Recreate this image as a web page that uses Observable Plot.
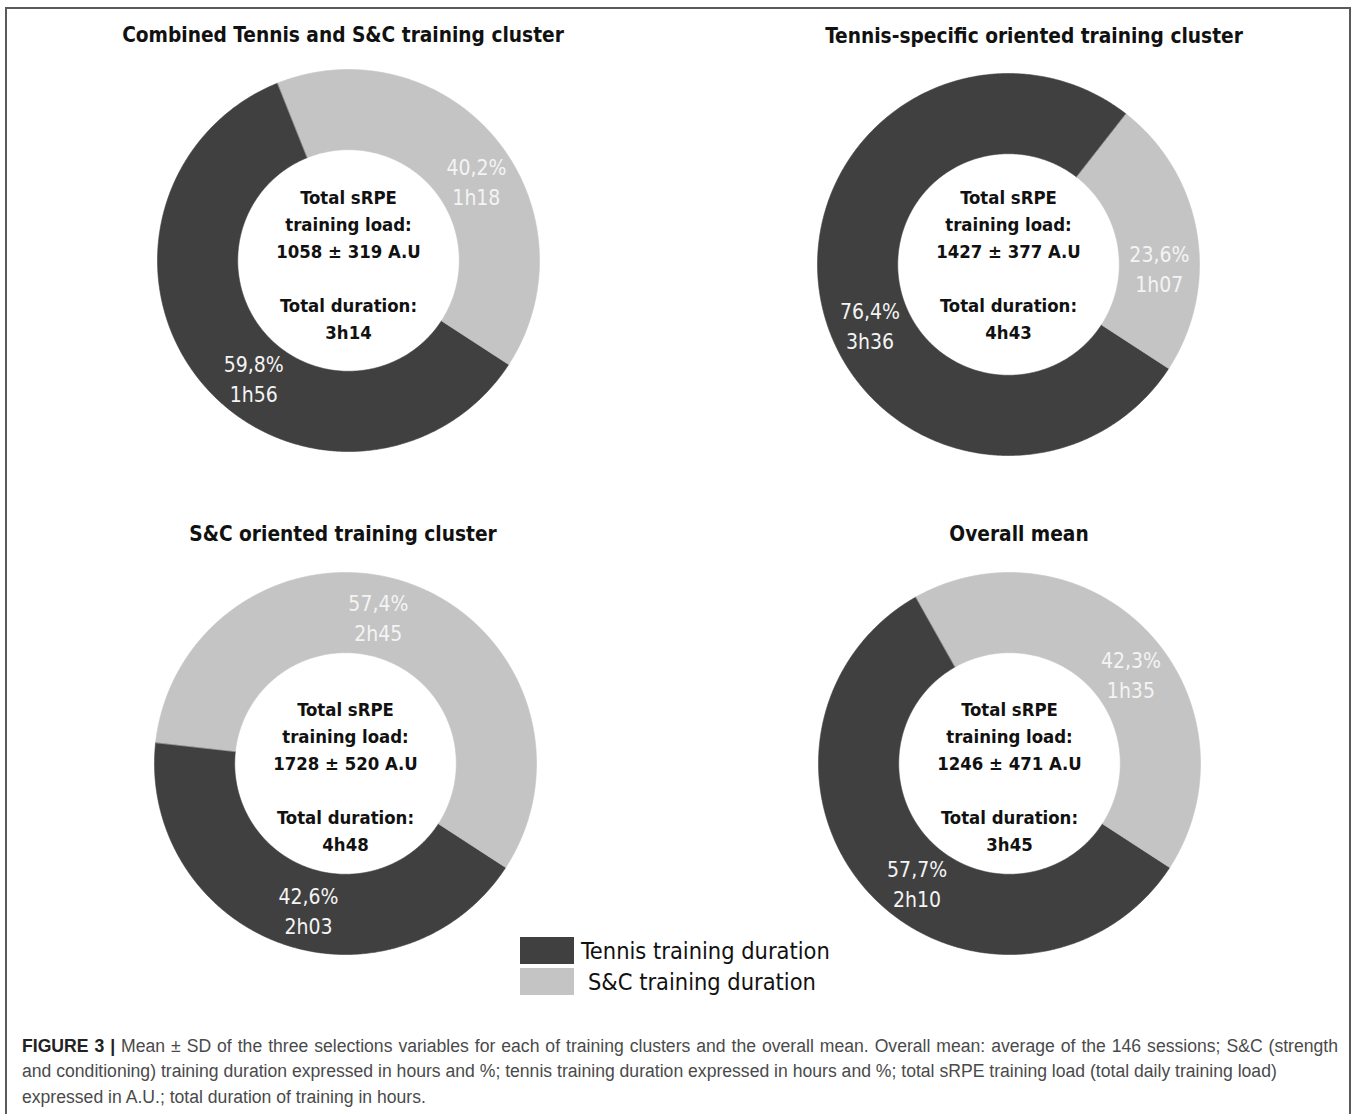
<!DOCTYPE html>
<html><head><meta charset="utf-8">
<script src="https://cdn.jsdelivr.net/npm/d3@7"></script>
<script src="https://cdn.jsdelivr.net/npm/@observablehq/plot@0.6"></script>
<style>
html,body{margin:0;padding:0;background:#fff;}
body{width:1360px;height:1114px;position:relative;overflow:hidden;font-family:"DejaVu Sans Condensed","DejaVu Sans",sans-serif;}
#frame{position:absolute;left:5px;top:7px;width:1346px;height:1130px;border:2px solid #5a5a5a;box-sizing:border-box;}
.title{position:absolute;font-weight:bold;font-size:20.7px;transform:translate(-50%,-50%);white-space:nowrap;color:#111;}
.panel{position:absolute;}
.legend{position:absolute;left:520px;top:937px;}
.lrow{position:absolute;left:0;height:27px;white-space:pre;}
.sw{position:absolute;left:0;top:0;width:54px;height:27px;}
.ltxt{position:absolute;left:61px;top:50%;transform:translateY(-50%);font-size:23.4px;color:#111;white-space:pre;}
.caption{position:absolute;left:22px;top:1033.5px;font-family:"Liberation Sans",Arial,sans-serif;font-size:17.6px;color:#4a4a4a;line-height:25.5px;}
.caption div{white-space:nowrap;}
.caption div.just{width:1316px;text-align:justify;text-align-last:justify;}
.caption b{color:#222;}
</style></head>
<body>
<div id="frame"></div>
<div id="root"></div>
<script>
// ---------- data ----------
const panelTitles = [
  "Combined Tennis and S&C training cluster",
  "Tennis-specific oriented training cluster",
  "S&C oriented training cluster",
  "Overall mean"
];
const categories = ["Tennis training duration", "S&C training duration"];
const tennisPct = [59.8, 76.4, 42.6, 57.7];
const scPct = [40.2, 23.6, 57.4, 42.3];
const tennisTime = ["1h56", "3h36", "2h03", "2h10"];
const scTime = ["1h18", "1h07", "2h45", "1h35"];
const loadMean = [1058, 1427, 1728, 1246];
const loadSD = [319, 377, 520, 471];
const totalDuration = ["3h14", "4h43", "4h48", "3h45"];
const captionLines = [
  "Mean \u00b1 SD of the three selections variables for each of training clusters and the overall mean. Overall mean: average of the 146 sessions; S&C (strength",
  "and conditioning) training duration expressed in hours and %; tennis training duration expressed in hours and %; total sRPE training load (total daily training load)",
  "expressed in A.U.; total duration of training in hours."
];

// ---------- style / layout ----------
const colors = ["#404040", "#c4c4c4"];
const labelColor = "#f4f4f4";
const R = 191;            // outer radius in px
const hole = 0.58;        // inner radius / outer radius
const startDeg = 123;     // angle of first slice (clockwise from 12 o'clock)
const S = 440;            // svg size
const layout = [
  {cx: 348, cy: 260, tx: 343, ty: 35, textDy: 2, nudge: [-11.7, 7.3]},
  {cx: 1008, cy: 264, tx: 1034, ty: 36, textDy: -2, nudge: [-13.9, 10.4]},
  {cx: 345, cy: 763, tx: 343, ty: 534, textDy: 11.5, nudge: [-5.5, -7.1]},
  {cx: 1009, cy: 763, tx: 1019, ty: 534, textDy: 11.5, nudge: [-9.1, 6.7]}
];
const fontFamily = '"DejaVu Sans Condensed","DejaVu Sans",sans-serif';
const fmtPct = v => v.toFixed(1).replace(".", ",") + "%";

const root = document.getElementById("root");
const half = S / 2 / R;
const a0 = startDeg * Math.PI / 180;

panelTitles.forEach((title, i) => {
  const L = layout[i];
  const t = document.createElement("div");
  t.className = "title";
  t.style.left = L.tx + "px";
  t.style.top = L.ty + "px";
  t.textContent = title;
  root.appendChild(t);

  const values = [tennisPct[i], scPct[i]];
  const times = [tennisTime[i], scTime[i]];
  const arcs = d3.pie().sort(null).startAngle(a0).endAngle(a0 + 2 * Math.PI)(values);

  const pts = [];
  const labels = [];
  arcs.forEach((a, j) => {
    const n = Math.max(2, Math.ceil((a.endAngle - a.startAngle) / (Math.PI / 360)));
    for (let k = 0; k <= n; k++) {
      const th = a.startAngle + (a.endAngle - a.startAngle) * k / n;
      pts.push({key: j, series: categories[j], x: Math.sin(th), y: Math.cos(th)});
    }
    for (let k = n; k >= 0; k--) {
      const th = a.startAngle + (a.endAngle - a.startAngle) * k / n;
      pts.push({key: j, series: categories[j], x: hole * Math.sin(th), y: hole * Math.cos(th)});
    }
    const mid = (a.startAngle + a.endAngle) / 2 + L.nudge[j] * Math.PI / 180;
    const rm = (1 + hole) / 2;
    labels.push({x: rm * Math.sin(mid), y: rm * Math.cos(mid), text: fmtPct(values[j]) + "\n" + times[j]});
  });

  const center = `Total sRPE\ntraining load:\n${loadMean[i]} \u00b1 ${loadSD[i]} A.U\n\nTotal duration:\n${totalDuration[i]}`;

  const chart = Plot.plot({
    width: S, height: S, margin: 0,
    x: {domain: [-half, half], axis: null},
    y: {domain: [-half, half], axis: null},
    color: {domain: categories, range: colors},
    style: {fontFamily, background: "transparent", overflow: "visible"},
    marks: [
      Plot.line(pts, {x: "x", y: "y", z: "key", fill: "series", stroke: "series", strokeWidth: 0.6, curve: "linear-closed"}),
      Plot.text(labels, {x: "x", y: "y", text: "text", fill: labelColor, fontSize: 21, lineHeight: 1.43}),
      Plot.text([center], {frameAnchor: "middle", text: d => d, fill: "#111", fontSize: 18.4, fontWeight: "bold", lineHeight: 1.467, dy: L.textDy})
    ]
  });
  const p = document.createElement("div");
  p.className = "panel";
  p.style.left = (L.cx - S / 2) + "px";
  p.style.top = (L.cy - S / 2) + "px";
  p.appendChild(chart);
  root.appendChild(p);
});

// legend
const lg = document.createElement("div");
lg.className = "legend";
categories.forEach((c, j) => {
  const row = document.createElement("div");
  row.className = "lrow";
  row.style.top = (j * 31) + "px";
  row.innerHTML = `<div class="sw" style="background:${colors[j]}"></div><div class="ltxt" style="left:${61 + j * 7}px">${c}</div>`;
  lg.appendChild(row);
});
root.appendChild(lg);

// caption
const cap = document.createElement("div");
cap.className = "caption";
cap.innerHTML = captionLines.map((l, k) => `<div${k === 0 ? ' class="just"' : ""}>${k === 0 ? "<b>FIGURE 3 |</b> " : ""}${l.replace(/&/g, "&amp;")}</div>`).join("");
root.appendChild(cap);
</script>
</body></html>
